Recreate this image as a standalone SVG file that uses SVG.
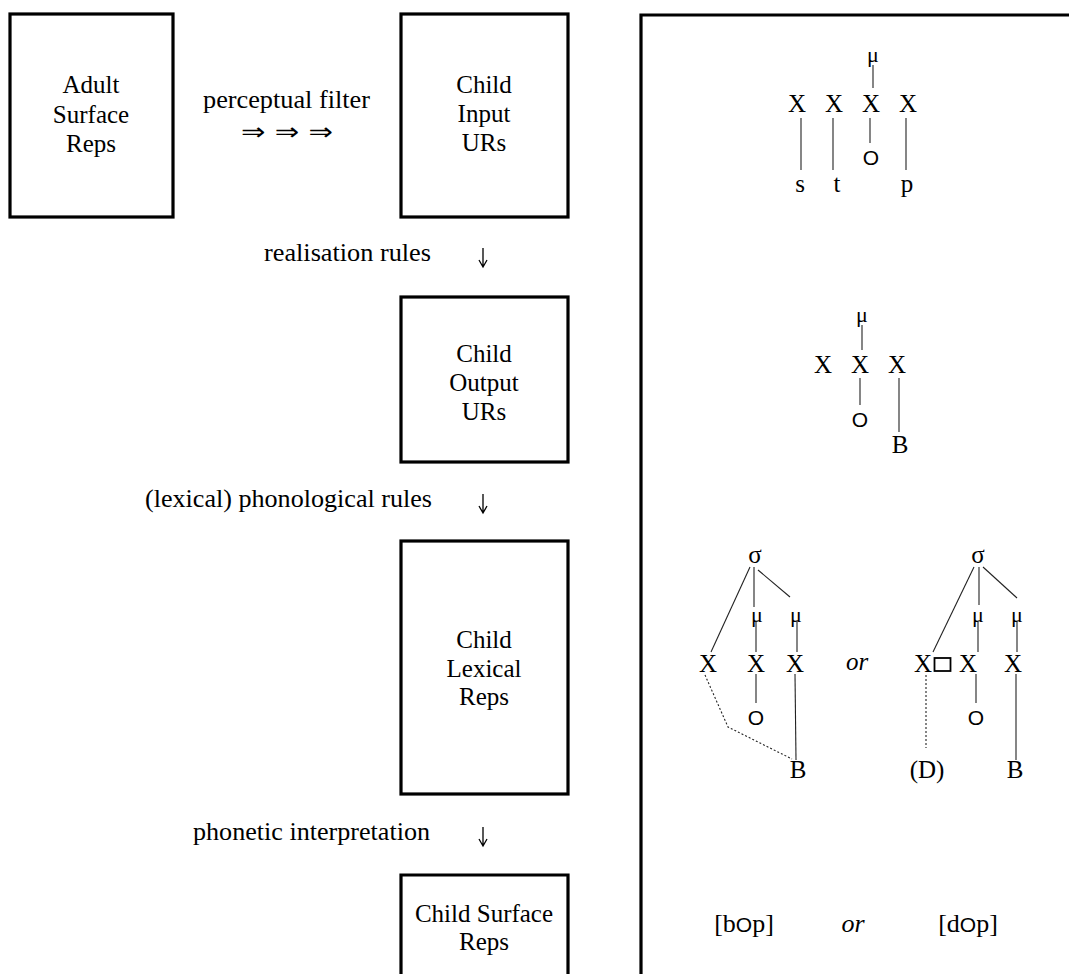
<svg xmlns="http://www.w3.org/2000/svg" width="1069" height="974" viewBox="0 0 1069 974">
<style>
.box{fill:none;stroke:#000;stroke-width:3.2}
.t{font-family:"Liberation Serif","Times New Roman",serif;font-size:25px;fill:#000}
.c{text-anchor:middle}
.tr{font-family:"Liberation Serif","Times New Roman",serif;font-size:25px;fill:#000;text-anchor:middle}
.mu{font-family:"Liberation Serif","Times New Roman",serif;font-size:22px;fill:#000;text-anchor:middle}
.o{font-family:"Liberation Sans",Arial,sans-serif;font-size:21px;fill:#000;text-anchor:middle}
.os{font-family:"Liberation Sans",Arial,sans-serif;font-size:21px}
.sf{font-size:26px}
.it{font-style:italic}
.ln{stroke:#222;stroke-width:1.1;fill:none}
.dot{stroke:#222;stroke-width:1.1;fill:none;stroke-dasharray:2 2}
.down{stroke:#000;stroke-width:1.3;fill:none}
.arr{font-family:"DejaVu Sans",sans-serif;font-size:24px;fill:#000}
</style>
<rect width="1069" height="974" fill="#fff"/>

<g id="adult-surface">
<rect class="box" x="10" y="14" width="163" height="203"/>
<text class="t c" x="91" y="93">Adult</text>
<text class="t c" x="91" y="123">Surface</text>
<text class="t c" x="91" y="152">Reps</text>
</g>
<g id="child-input">
<rect class="box" x="401" y="14" width="167" height="203"/>
<text class="t c" x="484" y="93">Child</text>
<text class="t c" x="484" y="122">Input</text>
<text class="t c" x="484" y="151">URs</text>
</g>
<g id="child-output">
<rect class="box" x="401" y="297" width="167" height="165"/>
<text class="t c" x="484" y="362">Child</text>
<text class="t c" x="484" y="391">Output</text>
<text class="t c" x="484" y="420">URs</text>
</g>
<g id="child-lexical">
<rect class="box" x="401" y="541" width="167" height="253"/>
<text class="t c" x="484" y="648">Child</text>
<text class="t c" x="484" y="677">Lexical</text>
<text class="t c" x="484" y="705">Reps</text>
</g>
<g id="child-surface">
<path class="box" d="M401,976 V875 H568 V976"/>
<text class="t c" x="484" y="922">Child Surface</text>
<text class="t c" x="484" y="950">Reps</text>
</g>

<g id="connectors">
<text class="t" x="203" y="108" textLength="167" lengthAdjust="spacingAndGlyphs">perceptual filter</text>
<text class="arr" x="241" y="140" textLength="92" lengthAdjust="spacingAndGlyphs">⇒ ⇒ ⇒</text>
<text class="t" x="264" y="261" textLength="167" lengthAdjust="spacingAndGlyphs">realisation rules</text>
<path class="down" d="M483,248 V267 M479,260 L483,267 L487,260"/>
<text class="t" x="145" y="507" textLength="287" lengthAdjust="spacingAndGlyphs">(lexical) phonological rules</text>
<path class="down" d="M483,494 V513 M479,506 L483,513 L487,506"/>
<text class="t" x="193" y="840" textLength="237" lengthAdjust="spacingAndGlyphs">phonetic interpretation</text>
<path class="down" d="M483,827 V846 M479,839 L483,846 L487,839"/>
</g>

<g id="right-panel">
<path class="box" d="M641,976 V15 H1071"/>
</g>

<g id="tree-input">
<text class="mu" x="873" y="62">μ</text>
<line class="ln" x1="873" y1="65" x2="873" y2="88"/>
<text class="tr" x="797" y="112">X</text>
<text class="tr" x="834" y="112">X</text>
<text class="tr" x="871" y="112">X</text>
<text class="tr" x="908" y="112">X</text>
<line class="ln" x1="801" y1="118" x2="801" y2="170"/>
<line class="ln" x1="833" y1="118" x2="833" y2="170"/>
<line class="ln" x1="870" y1="118" x2="870" y2="143"/>
<line class="ln" x1="906" y1="118" x2="906" y2="170"/>
<text class="o" x="871" y="165">O</text>
<text class="tr" x="800" y="192">s</text>
<text class="tr" x="837" y="192">t</text>
<text class="tr" x="907" y="192">p</text>
</g>

<g id="tree-output">
<text class="mu" x="862" y="322">μ</text>
<line class="ln" x1="862" y1="325" x2="862" y2="350"/>
<text class="tr" x="823" y="373">X</text>
<text class="tr" x="860" y="373">X</text>
<text class="tr" x="897" y="373">X</text>
<line class="ln" x1="860" y1="378" x2="860" y2="405"/>
<text class="o" x="860" y="427">O</text>
<line class="ln" x1="899" y1="378" x2="899" y2="432"/>
<text class="tr" x="900" y="453">B</text>
</g>

<g id="tree-lexical-a">
<text class="tr" x="755" y="563">σ</text>
<line class="ln" x1="750" y1="567" x2="711" y2="652"/>
<line class="ln" x1="754" y1="567" x2="754" y2="607"/>
<line class="ln" x1="758" y1="570" x2="790" y2="597"/>
<text class="mu" x="757" y="622">μ</text>
<text class="mu" x="796" y="622">μ</text>
<line class="ln" x1="756" y1="621" x2="756" y2="652"/>
<line class="ln" x1="797" y1="621" x2="797" y2="652"/>
<text class="tr" x="708" y="672">X</text>
<text class="tr" x="756" y="672">X</text>
<text class="tr" x="795" y="672">X</text>
<line class="ln" x1="756" y1="674" x2="756" y2="703"/>
<text class="o" x="756" y="725">O</text>
<line class="ln" x1="795" y1="674" x2="796" y2="760"/>
<text class="tr" x="798" y="778">B</text>
<path class="dot" d="M705,675 L728,727 L792,759"/>
</g>

<text class="t it c" x="857" y="670">or</text>

<g id="tree-lexical-b">
<text class="tr" x="978" y="563">σ</text>
<line class="ln" x1="974" y1="567" x2="933" y2="652"/>
<line class="ln" x1="979" y1="567" x2="979" y2="605"/>
<line class="ln" x1="983" y1="567" x2="1017" y2="598"/>
<text class="mu" x="978" y="622">μ</text>
<text class="mu" x="1017" y="622">μ</text>
<line class="ln" x1="978" y1="622" x2="978" y2="652"/>
<line class="ln" x1="1017" y1="622" x2="1017" y2="652"/>
<text class="tr" x="923" y="672">X</text>
<rect x="934.5" y="658" width="16" height="13" fill="none" stroke="#000" stroke-width="1.8"/>
<text class="tr" x="968" y="672">X</text>
<text class="tr" x="1013" y="672">X</text>
<line class="ln" x1="976" y1="674" x2="976" y2="703"/>
<text class="o" x="976" y="725">O</text>
<line class="ln" x1="1016" y1="674" x2="1016" y2="760"/>
<text class="tr" x="1015" y="778">B</text>
<path class="dot" d="M926,675 V748"/>
<text class="tr" x="927" y="778">(D)</text>
</g>

<g id="surface-forms">
<text class="t sf c" x="744" y="932">[b<tspan class="os">O</tspan>p]</text>
<text class="t sf it c" x="853" y="932">or</text>
<text class="t sf c" x="968" y="932">[d<tspan class="os">O</tspan>p]</text>
</g>
</svg>
